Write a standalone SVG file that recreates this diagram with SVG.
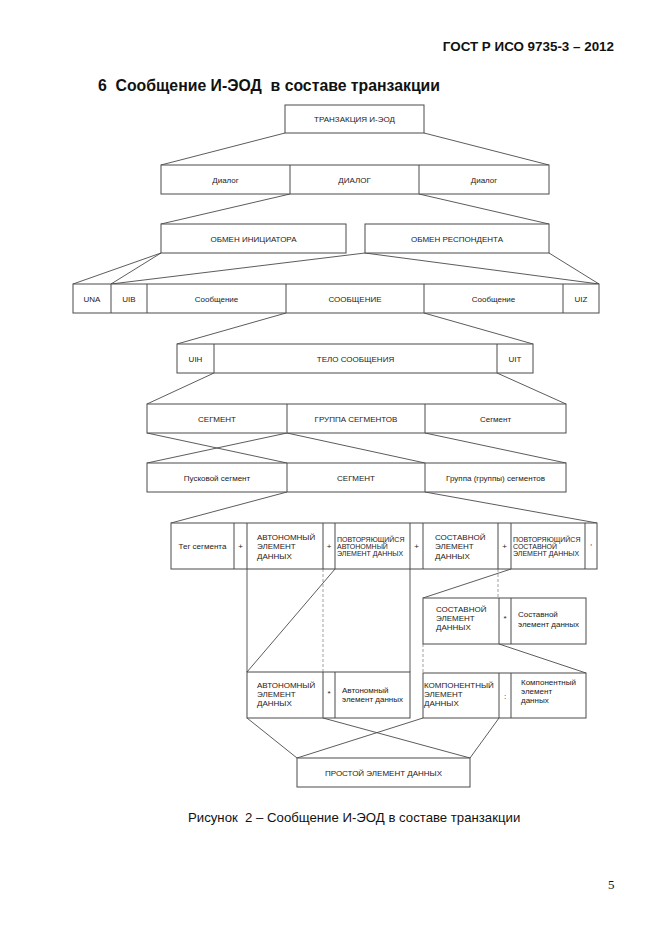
<svg xmlns="http://www.w3.org/2000/svg" width="661" height="936" viewBox="0 0 661 936">
<style>
.bx{fill:#fff;stroke:#4a4a4a;stroke-width:1}
.dv{stroke:#4a4a4a;stroke-width:1;fill:none}
.cn line{stroke:#4a4a4a;stroke-width:0.9}
.cn .ds{stroke:#888;stroke-dasharray:3 2;stroke-width:0.8}
text{font-family:"Liberation Sans",Arial,sans-serif;fill:#222}
.t{font-size:8px;text-anchor:middle}
.m{font-size:8px}
.s{font-size:7px}
.hd{font-size:13.4px;font-weight:bold;fill:#111}
.ti{font-size:15.8px;font-weight:bold;fill:#111}
.cap{font-size:13.2px;fill:#111}
.pg{font-family:"Liberation Serif","Times New Roman",serif;font-size:13px;fill:#111}
</style>
<rect width="661" height="936" fill="#fff"/>
<text class="hd" x="614" y="51" text-anchor="end">ГОСТ Р ИСО 9735-3 – 2012</text>
<text class="ti" x="98" y="91" xml:space="preserve">6  Сообщение И-ЭОД  в составе транзакции</text>

<g id="connectors" class="cn">
<line x1="285" y1="133" x2="161" y2="165"/>
<line x1="424" y1="133" x2="549" y2="165"/>
<line x1="290" y1="194" x2="161" y2="224"/>
<line x1="419" y1="194" x2="549" y2="224"/>
<line x1="161" y1="253" x2="73" y2="284"/>
<line x1="161" y1="253" x2="111" y2="284"/>
<line x1="365" y1="253" x2="111" y2="284"/>
<line x1="365" y1="253" x2="599" y2="284"/>
<line x1="549" y1="253" x2="599" y2="284"/>
<line x1="286" y1="313" x2="177" y2="344"/>
<line x1="424" y1="313" x2="533" y2="344"/>
<line x1="214" y1="373" x2="147" y2="404"/>
<line x1="497" y1="373" x2="566" y2="404"/>
<line x1="147" y1="433" x2="287" y2="463"/>
<line x1="287" y1="433" x2="147" y2="463"/>
<line x1="287" y1="433" x2="425" y2="463"/>
<line x1="425" y1="433" x2="566" y2="463"/>
<line x1="287" y1="492" x2="171" y2="523"/>
<line x1="425" y1="492" x2="597" y2="523"/>
<line x1="247" y1="569" x2="247" y2="672"/>
<line class="ds" x1="323" y1="569" x2="323" y2="672"/>
<line x1="335" y1="569" x2="247" y2="672"/>
<line x1="410" y1="569" x2="410" y2="672"/>
<line class="ds" x1="498" y1="569" x2="498" y2="598"/>
<line x1="511" y1="569" x2="423" y2="598"/>
<line x1="499" y1="644" x2="586" y2="673"/>
<line class="ds" x1="423" y1="644" x2="423" y2="673"/>
<line x1="247" y1="718" x2="297" y2="758"/>
<line x1="323" y1="718" x2="470" y2="758"/>
<line x1="423" y1="718" x2="297" y2="758"/>
<line x1="499" y1="718" x2="470" y2="758"/>
</g>

<g id="transaction">
<rect class="bx" x="285" y="105" width="139" height="28"/>
<text class="t" x="354.5" y="122">ТРАНЗАКЦИЯ И-ЭОД</text>
</g>

<g id="dialogs">
<rect class="bx" x="161" y="165" width="388" height="29"/>
<line class="dv" x1="290" y1="165" x2="290" y2="194"/>
<line class="dv" x1="419" y1="165" x2="419" y2="194"/>
<text class="t" x="225.5" y="182.5">Диалог</text>
<text class="t" x="354.5" y="182.5">ДИАЛОГ</text>
<text class="t" x="484" y="182.5">Диалог</text>
</g>

<g id="exchange-initiator">
<rect class="bx" x="161" y="224" width="185" height="29"/>
<text class="t" x="253.5" y="241.5">ОБМЕН ИНИЦИАТОРА</text>
</g>

<g id="exchange-respondent">
<rect class="bx" x="365" y="224" width="184" height="29"/>
<text class="t" x="457" y="241.5">ОБМЕН РЕСПОНДЕНТА</text>
</g>

<g id="interchange">
<rect class="bx" x="73" y="284" width="526" height="29"/>
<line class="dv" x1="111" y1="284" x2="111" y2="313"/>
<line class="dv" x1="147" y1="284" x2="147" y2="313"/>
<line class="dv" x1="286" y1="284" x2="286" y2="313"/>
<line class="dv" x1="424" y1="284" x2="424" y2="313"/>
<line class="dv" x1="563" y1="284" x2="563" y2="313"/>
<text class="t" x="92" y="301.5">UNA</text>
<text class="t" x="129" y="301.5">UIB</text>
<text class="t" x="216.5" y="301.5">Сообщение</text>
<text class="t" x="355" y="301.5">СООБЩЕНИЕ</text>
<text class="t" x="493.5" y="301.5">Сообщение</text>
<text class="t" x="581" y="301.5">UIZ</text>
</g>

<g id="message">
<rect class="bx" x="177" y="344" width="356" height="29"/>
<line class="dv" x1="214" y1="344" x2="214" y2="373"/>
<line class="dv" x1="497" y1="344" x2="497" y2="373"/>
<text class="t" x="195.5" y="361.5">UIH</text>
<text class="t" x="355.5" y="361.5">ТЕЛО СООБЩЕНИЯ</text>
<text class="t" x="515" y="361.5">UIT</text>
</g>

<g id="message-body">
<rect class="bx" x="147" y="404" width="419" height="29"/>
<line class="dv" x1="287" y1="404" x2="287" y2="433"/>
<line class="dv" x1="425" y1="404" x2="425" y2="433"/>
<text class="t" x="217" y="421.5">СЕГМЕНТ</text>
<text class="t" x="356" y="421.5">ГРУППА СЕГМЕНТОВ</text>
<text class="t" x="495.5" y="421.5">Сегмент</text>
</g>

<g id="segment-group">
<rect class="bx" x="147" y="463" width="419" height="29"/>
<line class="dv" x1="287" y1="463" x2="287" y2="492"/>
<line class="dv" x1="425" y1="463" x2="425" y2="492"/>
<text class="t" x="217" y="480.5">Пусковой сегмент</text>
<text class="t" x="356" y="480.5">СЕГМЕНТ</text>
<text class="t" x="495.5" y="480.5">Группа (группы) сегментов</text>
</g>

<g id="segment">
<rect class="bx" x="171" y="523" width="426" height="46"/>
<line class="dv" x1="234" y1="523" x2="234" y2="569"/>
<line class="dv" x1="247" y1="523" x2="247" y2="569"/>
<line class="dv" x1="323" y1="523" x2="323" y2="569"/>
<line class="dv" x1="335" y1="523" x2="335" y2="569"/>
<line class="dv" x1="410" y1="523" x2="410" y2="569"/>
<line class="dv" x1="423" y1="523" x2="423" y2="569"/>
<line class="dv" x1="498" y1="523" x2="498" y2="569"/>
<line class="dv" x1="511" y1="523" x2="511" y2="569"/>
<line class="dv" x1="585" y1="523" x2="585" y2="569"/>
<text class="t" x="202.5" y="549">Тег сегмента</text>
<text class="t" x="240.5" y="549">+</text>
<text class="m" x="257"><tspan x="257" y="539.5">АВТОНОМНЫЙ</tspan><tspan x="257" y="549">ЭЛЕМЕНТ</tspan><tspan x="257" y="558.5">ДАННЫХ</tspan></text>
<text class="t" x="329" y="549">+</text>
<text class="s" x="337"><tspan x="337" y="541.5">ПОВТОРЯЮЩИЙСЯ</tspan><tspan x="337" y="548.5">АВТОНОМНЫЙ</tspan><tspan x="337" y="555.5">ЭЛЕМЕНТ ДАННЫХ</tspan></text>
<text class="t" x="416.5" y="549">+</text>
<text class="m" x="435"><tspan x="435" y="539.5">СОСТАВНОЙ</tspan><tspan x="435" y="549">ЭЛЕМЕНТ</tspan><tspan x="435" y="558.5">ДАННЫХ</tspan></text>
<text class="t" x="504.5" y="549">+</text>
<text class="s" x="513"><tspan x="513" y="542">ПОВТОРЯЮЩИЙСЯ</tspan><tspan x="513" y="549">СОСТАВНОЙ</tspan><tspan x="513" y="556">ЭЛЕМЕНТ ДАННЫХ</tspan></text>
<text class="t" x="591" y="545">,</text>
</g>

<g id="composite-element">
<rect class="bx" x="423" y="598" width="163" height="46"/>
<line class="dv" x1="499" y1="598" x2="499" y2="644"/>
<line class="dv" x1="511" y1="598" x2="511" y2="644"/>
<text class="m" x="436"><tspan x="436" y="612">СОСТАВНОЙ</tspan><tspan x="436" y="621">ЭЛЕМЕНТ</tspan><tspan x="436" y="630">ДАННЫХ</tspan></text>
<text class="t" x="505" y="621">*</text>
<text class="m" x="518"><tspan x="518" y="617">Составной</tspan><tspan x="518" y="626.5">элемент данных</tspan></text>
</g>

<g id="standalone-element">
<rect class="bx" x="247" y="672" width="163" height="46"/>
<line class="dv" x1="323" y1="672" x2="323" y2="718"/>
<line class="dv" x1="335" y1="672" x2="335" y2="718"/>
<text class="m" x="257"><tspan x="257" y="688">АВТОНОМНЫЙ</tspan><tspan x="257" y="697">ЭЛЕМЕНТ</tspan><tspan x="257" y="706">ДАННЫХ</tspan></text>
<text class="t" x="329" y="696">*</text>
<text class="m" x="342"><tspan x="342" y="693">Автономный</tspan><tspan x="342" y="702">элемент данных</tspan></text>
</g>

<g id="component-element">
<rect class="bx" x="423" y="673" width="163" height="45"/>
<line class="dv" x1="499" y1="673" x2="499" y2="718"/>
<line class="dv" x1="511" y1="673" x2="511" y2="718"/>
<text class="m" x="424"><tspan x="424" y="688">КОМПОНЕНТНЫЙ</tspan><tspan x="424" y="697">ЭЛЕМЕНТ</tspan><tspan x="424" y="706">ДАННЫХ</tspan></text>
<text class="t" x="505" y="699">:</text>
<text class="m" x="521"><tspan x="521" y="685">Компонентный</tspan><tspan x="521" y="694">элемент</tspan><tspan x="521" y="703">данных</tspan></text>
</g>

<g id="simple-element">
<rect class="bx" x="297" y="758" width="173" height="29"/>
<text class="t" x="383.5" y="775.5">ПРОСТОЙ ЭЛЕМЕНТ ДАННЫХ</text>
</g>

<text class="cap" x="188" y="822" xml:space="preserve">Рисунок  2 – Сообщение И-ЭОД в составе транзакции</text>
<text class="pg" x="608" y="889">5</text>
</svg>
